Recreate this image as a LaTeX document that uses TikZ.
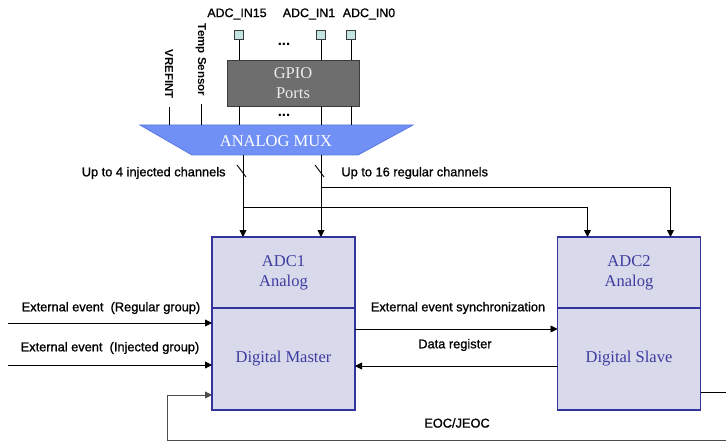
\documentclass[tikz,border=0pt]{standalone}
\usepackage{fontspec}
\setmainfont{Liberation Serif}
\setsansfont{Liberation Sans}
\newfontfamily\lblfont[FakeBold=1]{Liberation Sans}
\definecolor{adcFill}{HTML}{D9D9EC}
\definecolor{adcLine}{HTML}{33339E}
\definecolor{adcText}{HTML}{3C3CA0}
\definecolor{gpioFill}{HTML}{6E6E6E}
\definecolor{gpioLine}{HTML}{3C3C3C}
\definecolor{muxFill}{HTML}{7090F5}
\definecolor{muxLine}{HTML}{5A78E0}
\definecolor{pinFill}{HTML}{C4E4E4}
\usetikzlibrary{positioning,arrows.meta,calc}

\begin{document}
\begin{tikzpicture}[x=1pt, y=-1pt, line width=0.9pt,
  lbl/.style={font=\lblfont\fontsize{12.8}{14}\selectfont, inner sep=0pt},
  sig/.style={font=\sffamily\bfseries\fontsize{11.5}{13}\selectfont, inner sep=0pt, rotate=-90},
  big/.style={font=\fontsize{16.5}{20}\selectfont, align=center},
  adcbox/.style={big, draw=adcLine, line width=1.6pt, fill=adcFill, text=adcText, minimum width=143pt, outer sep=0pt},
  pin/.style={draw=gpioLine, fill=pinFill, line width=0.8pt, minimum size=9.5pt, inner sep=0pt},
  dots/.style={font=\sffamily\bfseries\fontsize{15}{16}\selectfont, inner sep=0pt, anchor=base, text height=3pt, text depth=0pt},
  arr/.style={-{Triangle[length=7pt,width=7pt]}}]
\useasboundingbox (0,0) rectangle (726,441);

% ADC blocks
\node[adcbox, minimum height=71pt] (adcA) at (283.5,272.5) {ADC1\\Analog};
\node[adcbox, minimum height=102pt, below=0pt of adcA] (digA) {Digital Master};
\node[adcbox, minimum height=71pt] (adcB) at (629,272.5) {ADC2\\Analog};
\node[adcbox, minimum height=102pt, below=0pt of adcB] (digB) {Digital Slave};

% GPIO and pins
\node[big, draw=gpioLine, fill=gpioFill, text=black!8, minimum width=132pt, minimum height=46pt] (gpio) at (293,83) {GPIO\\Ports};
\node[pin] (in15) at (239,35) {};
\node[pin] (in1) at (321,35) {};
\node[pin] (in0) at (351,35) {};
\node[lbl, font=\lblfont\fontsize{12.4}{14}\selectfont] (l15) at (237,14) {ADC\_IN15};
\node[lbl, font=\lblfont\fontsize{12.4}{14}\selectfont] (l1) at (309,14) {ADC\_IN1};
\node[lbl, font=\lblfont\fontsize{12.4}{14}\selectfont] (l0) at (369,14) {ADC\_IN0};
\node[dots] (dotsT) at (284,46) {...};
\node[dots] (dotsB) at (284,117) {...};
\foreach \p in {in15,in1,in0} \draw (\p) -- (\p |- gpio.north);

% analog mux
\coordinate (muxTL) at (140,125); \coordinate (muxTR) at (413,125);
\coordinate (muxBR) at (358,155); \coordinate (muxBL) at (192,155);
\draw[fill=muxFill, draw=muxLine, line width=0.8pt] (muxTL) -- (muxTR) -- (muxBR) -- (muxBL) -- cycle;
\node[big, text=white] (mux) at (276,141) {ANALOG MUX};
\foreach \p in {in15,in1,in0} \draw (gpio.south -| \p) -- (\p |- muxTL);

% internal inputs
\node[sig] (vref) at (169,74) {VREFINT};
\node[sig] (temp) at (201,60) {Temp Sensor};
\draw (vref.east) ++(0,8) -- (vref.east |- muxTL);
\draw (temp.east) ++(0,8) -- (temp.east |- muxTL);

% channels
\coordinate (injOut) at (243,155);
\coordinate (regOut) at (321,155);
\draw[arr] (injOut) -- (injOut |- adcA.north);
\draw[arr] (regOut) -- (regOut |- adcA.north);
\draw ([shift={(-6,10)}]injOut) -- ++(9,12);
\draw ([shift={(-6,10)}]regOut) -- ++(9,12);
\draw[arr] (regOut |- 0,187) -| ([xshift=-30pt]adcB.north east);
\draw[arr] (injOut |- 0,207) -| ([xshift=30pt]adcB.north west);
\node[lbl, anchor=east] (injL) at (226,173) {Up to 4 injected channels};
\node[lbl, anchor=west] (regL) at (341,173) {Up to 16 regular channels};

% external events
\coordinate (extR) at (8,323);
\coordinate (extJ) at (8,365);
\draw[arr] (extR) -- (extR -| digA.west);
\draw[arr] (extJ) -- (extJ -| digA.west);
\node[lbl] (extRL) at (111,308) {External event~~(Regular group)};
\node[lbl] (extJL) at (110,348) {External event~~(Injected group)};

% master / slave links
\draw[arr] (digA.east |- 0,329) -- (digB.west |- 0,329);
\draw[arr] (digB.west |- 0,366) -- (digA.east |- 0,366);
\node[lbl] (syncL) at (458,308) {External event synchronization};
\node[lbl] (dataL) at (455,345) {Data register};

% end of conversion feedback
\coordinate (eocR) at (726,440);
\coordinate (eocL) at (167,395);
\draw (digB.east |- 0,392) -- (726,392);
\draw[arr, black!70] (eocR) -| (eocL) -- (eocL -| digA.west);
\node[lbl] (eocT) at (457,423) {EOC/JEOC};
\end{tikzpicture}
\end{document}
